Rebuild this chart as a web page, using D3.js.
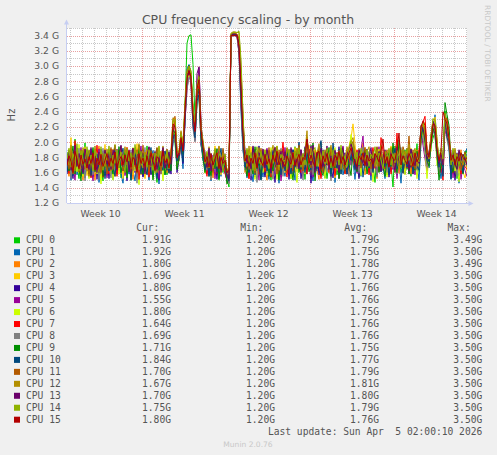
<!DOCTYPE html>
<html>
<head>
<meta charset="utf-8">
<script src="https://cdn.jsdelivr.net/npm/d3@7"></script>
<style>
  body { margin: 0; background: #f0f0f0; }
  text { font-family: "DejaVu Sans", sans-serif; }
  .mono { font-family: "DejaVu Sans Mono", monospace; white-space: pre; }
</style>
</head>
<body>
<script>
// CPU frequency, one value per 4h step, in units of 10 MHz (172 = 1.72 GHz)
const cpu0 = [176,158,189,163,204,170,152,183,167,199,161,178,154,186,172,160,192,165,149,181,169,187,158,174,196,162,180,153,171,190,164,183,150,177,192,168,156,185,173,160,195,171,158,182,166,147,179,188,162,174,157,186,170,
  212,198,170,185,205,176, 248,330,340,341,302,232,262,280,214, 188,163,179,155,171,158,185,166,150,174,160,182, 152,141, 340,341,341,340, 336,262,196,
  166,184,159,176,191,154,170,182,161,175,157,188,168,150,179,193,164,172,155,186,170,160,183,152,177,194,168,181,162,175,151,187,173,196,158,170,184,160,199,166,176,152,171,189,163,180,157,174,192,168,
  159,183,170,201,176,165,188,154,179,193,162,175,186,158,171,147,190,166,181,169,178,157,188,172,141,195,168,183,160,176,190,164,172,155,183,168,198,161,205,213,218,182,170,195,205,214,196,175,160,182,
  241,225,203,172,158,180,152,176,165,184,178,191]
const cpu1 = [162,181,150,173,190,157,178,164,185,153,176,169,191,155,168,182,147,175,163,188,156,172,184,151,177,165,190,159,146,180,171,158,186,163,149,178,192,166,155,183,168,150,175,189,161,172,145,184,170,157,190,164,176,
  198,215,168,180,196,165, 230,296,302,285,240,205,250,262,198, 176,182,158,173,149,169,187,162,178,155,190,166, 148,156, 339,340,340,339, 318,240,188,
  175,153,186,167,148,179,160,193,171,154,183,166,151,178,188,159,174,146,185,168,155,179,190,163,171,150,186,165,177,158,191,158,175,167,149,182,170,192,161,177,153,184,172,160,189,147,176,168,185,157,
  170,186,162,190,174,151,181,166,155,178,188,164,173,150,186,169,158,180,192,167,152,178,184,161,170,190,157,175,146,183,166,191,158,174,187,160,172,150,198,206,222,188,166,205,212,236,200,171,152,176,
  226,212,190,151,174,160,186,146,178,160,185,192]
const cpu2 = [171,155,184,166,179,192,160,175,150,182,168,186,159,173,150,181,195,162,177,156,183,164,176,189,155,171,167,193,158,180,162,187,174,151,183,169,196,157,178,165,190,158,172,185,163,176,154,188,167,179,160,184,171,
  226,232,175,188,210,178, 236,275,290,282,226,210,262,278,206, 192,170,186,161,177,153,181,168,194,159,175,163, 158,150, 341,342,342,341, 320,268,214,
  160,178,152,189,170,163,185,157,176,190,165,150,181,172,158,193,169,180,154,175,188,162,174,157,183,166,192,171,160,185,172,198,185,157,178,190,164,151,186,170,159,182,174,193,168,155,187,176,162,181,
  169,191,158,196,184,170,163,188,175,199,157,180,171,165,190,176,152,184,169,178,186,162,175,193,168,180,203,159,182,171,164,189,176,158,185,170,190,166,200,218,207,184,174,200,222,216,190,162,183,167,
  230,219,205,170,158,183,167,176,190,162,172,180]
const cpu3 = [185,167,206,158,176,189,163,182,171,194,156,180,167,190,160,176,185,153,170,197,164,182,158,191,170,179,162,188,152,175,193,166,181,157,174,198,163,185,170,152,178,190,165,183,159,176,194,168,181,163,187,160,179,
  218,226,185,180,210,190, 240,281,296,290,240,215,258,270,220, 190,175,164,188,159,172,195,166,183,157,178,169, 162,155, 340,344,344,342, 338,286,226,
  183,159,175,194,166,180,152,188,169,177,190,161,184,170,152,176,195,163,181,158,174,189,156,180,168,193,161,186,172,159,182,170,196,163,177,155,189,174,166,185,171,192,160,178,186,153,175,190,168,181,
  162,179,194,205,224,198,170,185,164,180,193,167,178,159,186,172,190,163,176,184,158,181,170,195,166,179,161,188,174,160,185,169,177,192,164,183,170,176,205,210,226,192,181,208,216,233,205,164,172,184,
  228,210,201,165,177,153,180,159,175,161,153,169]
const cpu4 = [158,184,170,152,189,166,178,155,182,168,190,157,175,164,183,151,179,170,188,159,176,152,181,167,194,158,173,185,162,177,149,183,170,191,160,175,166,187,154,180,168,193,157,176,184,162,150,179,171,188,163,175,158,
  205,212,160,178,200,172, 226,282,292,276,225,202,258,268,196, 182,166,180,157,185,162,176,151,189,168,174,159, 150,160, 340,341,341,340, 330,258,192,
  179,164,188,150,173,184,162,195,158,170,154,182,166,189,171,147,180,162,176,191,165,182,151,176,190,160,178,186,152,171,194,163,181,146,179,166,185,157,174,190,160,177,188,169,153,182,171,194,163,178,
  186,158,172,183,190,165,177,152,181,169,175,191,160,179,166,184,157,172,188,163,170,185,154,178,192,161,174,183,166,189,158,176,190,167,180,171,163,185,212,216,195,170,182,199,219,208,182,163,176,158,
  225,213,196,163,182,150,174,169,184,160,184,180]
const cpu5 = [179,163,191,172,150,184,166,193,158,175,162,185,171,149,180,166,191,158,176,183,153,187,169,178,160,191,164,177,185,156,172,190,161,183,168,154,179,195,166,181,158,174,189,163,185,170,152,178,191,165,180,168,187,
  209,205,176,182,198,190, 228,268,290,278,219,208,270,298,226, 190,188,159,176,167,183,152,178,191,164,172,160, 155,147, 339,340,340,339, 316,250,203,
  170,187,156,181,164,191,172,150,184,163,178,192,160,173,186,158,167,183,149,172,193,170,162,187,158,175,184,166,190,157,191,180,167,195,154,176,162,187,155,181,168,190,173,159,184,171,186,152,179,195,
  163,177,188,170,196,182,159,175,190,208,167,183,172,156,189,165,178,194,161,176,185,158,171,190,164,180,152,177,188,166,174,192,160,183,170,157,186,175,214,196,178,162,188,203,226,221,197,170,160,186,
  215,208,199,188,153,178,168,182,151,170,163,155]
const cpu6 = [168,190,159,177,183,161,197,170,155,186,174,152,183,168,189,158,171,145,180,167,186,160,178,150,173,185,158,191,166,179,154,182,170,193,162,176,144,181,167,188,159,175,186,152,170,183,164,177,149,185,172,160,181,
  220,208,168,178,198,185, 234,279,288,282,227,212,252,260,202, 185,159,174,183,152,176,168,190,157,172,181,163, 160,151, 340,342,342,341, 334,280,218,
  164,176,190,158,182,151,176,166,189,160,172,157,180,193,164,176,151,187,170,182,160,178,169,152,185,171,147,183,176,164,158,179,164,186,170,155,182,168,190,175,152,184,171,160,177,193,163,186,158,172,
  180,166,188,210,179,164,175,190,156,183,171,159,185,177,148,182,168,191,163,176,187,154,178,166,183,160,175,194,168,180,157,183,170,189,164,178,152,176,206,221,190,152,183,188,224,218,169,180,165,176,
  234,208,196,175,190,162,170,148,176,165,184,180]
const cpu7 = [174,159,186,165,202,170,181,156,172,190,165,179,153,188,170,196,162,177,154,184,170,158,191,166,178,155,185,169,180,161,193,172,157,184,168,190,151,176,186,163,179,154,188,171,162,183,175,158,192,167,177,160,185,
  212,228,181,176,202,187, 236,285,296,279,236,210,264,274,210, 195,171,155,182,164,174,190,159,177,168,185,160, 149,157, 340,341,341,340, 322,262,199,
  185,166,152,178,190,169,181,158,173,187,161,175,189,154,181,167,193,158,176,200,168,154,181,174,162,188,170,195,160,183,172,158,191,166,179,163,187,175,152,184,169,192,160,177,185,156,174,189,166,180,
  158,183,171,196,178,165,190,162,175,184,170,186,157,180,193,166,176,161,206,188,165,179,190,158,183,172,212,168,186,160,178,166,193,175,158,184,171,190,215,226,234,190,176,201,214,220,182,160,176,150,
  220,232,214,170,160,179,185,174,158,172,168,164]
const cpu8 = [166,178,152,187,163,175,192,160,181,149,177,163,188,157,174,186,151,168,192,161,180,167,153,182,165,176,189,158,172,184,155,171,190,163,178,146,184,169,175,193,162,180,170,154,187,166,179,158,183,171,165,189,174,
  202,206,170,176,195,182, 228,270,286,284,218,200,250,258,204, 180,175,163,186,150,181,168,192,159,174,163,185, 153,145, 339,340,340,339, 318,248,190,
  163,180,169,155,186,173,147,179,164,190,175,159,187,166,151,182,169,178,192,155,180,166,191,159,173,182,165,188,173,150,181,192,166,174,157,185,162,180,200,170,188,161,173,149,176,190,165,182,158,171,
  184,168,155,190,182,170,186,159,177,194,166,179,188,160,172,185,154,178,169,183,176,160,189,171,166,184,158,175,193,162,180,168,176,191,160,182,170,165,212,205,186,168,173,196,221,207,180,160,178,166,
  227,203,190,178,166,190,155,177,163,182,171,169]
const cpu9 = [187,162,175,195,158,180,168,149,189,171,183,158,172,193,161,179,167,186,155,174,162,190,171,158,182,168,194,160,176,185,153,180,167,189,174,160,196,171,158,183,176,165,188,150,179,192,163,174,186,157,170,184,162,
  216,212,164,180,207,184, 242,290,301,292,241,218,266,270,210, 178,160,184,170,156,178,165,191,152,180,168,174, 145,154, 340,342,342,341, 330,272,207,
  172,155,183,170,158,194,165,177,151,186,168,183,155,177,162,190,172,150,183,166,178,192,164,171,150,180,187,160,175,168,192,178,161,170,199,149,177,188,163,156,181,170,193,158,175,166,185,152,179,190,
  163,184,172,156,188,175,161,182,169,178,190,158,176,184,165,172,193,160,180,171,155,179,186,168,199,174,160,203,182,166,175,190,158,181,170,163,188,176,203,220,200,176,168,196,218,211,184,150,172,168,
  252,236,222,172,160,178,165,184,170,158,188,171]
const cpu10 = [160,182,171,156,180,192,164,175,158,183,170,189,156,177,165,184,160,191,173,152,175,162,187,170,155,183,166,179,192,161,184,171,150,177,189,163,175,158,186,169,157,180,193,166,174,152,185,170,163,188,176,159,181,
  207,210,175,182,198,174, 232,283,295,286,224,206,254,262,205, 187,164,177,155,180,169,188,160,175,192,163,170, 156,149, 340,341,341,340, 326,256,201,
  167,185,160,174,193,157,182,168,150,176,185,162,174,159,190,171,163,186,157,177,162,185,173,158,190,167,176,200,164,181,160,186,172,163,190,175,165,188,202,160,179,170,184,155,199,174,166,191,158,180,
  171,158,187,176,193,163,180,169,185,154,178,190,166,174,160,183,172,187,161,179,168,184,157,180,176,192,165,171,186,159,182,167,175,190,158,184,170,163,210,219,215,181,174,205,228,216,190,167,183,155,
  231,206,198,152,186,172,181,169,176,160,181,184]
const cpu11 = [180,165,193,158,175,186,161,190,170,164,187,155,180,172,191,166,183,160,178,189,158,176,193,164,186,170,177,195,162,181,173,188,165,192,176,159,184,171,196,167,182,160,189,174,166,193,178,162,185,170,191,168,180,
  230,234,189,184,213,196, 244,292,298,288,244,220,272,284,216, 199,178,166,190,171,160,187,174,183,165,192,172, 161,158, 342,343,343,342, 336,290,230,
  176,190,164,183,171,159,188,176,192,168,182,170,193,163,179,186,158,190,174,165,185,171,160,191,175,184,168,196,177,162,180,207,176,166,190,182,169,194,172,160,187,174,165,192,180,168,185,176,190,171,
  163,188,178,195,201,184,172,189,166,182,193,170,181,165,188,177,194,168,185,173,179,190,168,184,172,163,191,180,175,194,184,176,208,169,190,165,178,183,218,224,210,186,178,210,225,217,194,176,181,170,
  233,216,204,176,187,181,170,188,164,176,187,170]
const cpu12 = [183,170,196,176,162,191,178,165,193,180,162,190,178,167,195,172,160,188,183,168,191,172,162,184,197,175,169,186,178,194,170,185,176,163,190,181,198,172,166,187,179,193,168,185,174,160,189,177,195,171,184,166,190,
  232,226,186,185,215,194, 250,294,300,294,246,222,276,288,220, 202,183,170,194,176,166,189,180,195,172,186,178, 163,165, 343,345,345,344, 344,300,236,
  181,168,195,174,187,162,179,193,170,184,171,188,166,183,196,174,180,163,190,178,170,193,181,166,187,176,192,172,185,168,188,215,171,192,178,166,185,198,170,184,190,172,183,196,168,181,175,189,164,186,
  177,194,182,200,206,188,173,192,179,185,170,187,194,176,183,168,190,178,196,174,185,172,181,193,169,186,177,164,190,181,188,175,197,170,184,192,168,181,220,226,214,190,183,209,230,230,202,174,186,172,
  238,220,208,184,174,192,168,184,175,170,178,167]
const cpu13 = [172,189,163,181,196,168,185,170,160,191,176,164,193,170,182,160,187,175,165,190,171,185,164,190,175,163,182,196,168,179,187,161,178,192,170,184,166,189,175,158,183,194,169,177,188,164,180,172,193,166,178,187,171,
  219,222,183,182,204,190, 236,287,296,285,238,216,290,299,222, 196,181,167,192,162,178,188,171,184,160,176,182, 158,152, 341,342,342,341, 328,278,221,
  190,172,181,165,195,178,168,186,174,191,166,190,177,160,185,193,170,176,188,167,187,174,158,193,178,170,184,165,190,176,184,203,187,170,196,160,186,179,192,168,178,195,164,182,171,189,176,160,185,193,
  170,183,191,198,188,175,164,190,180,172,186,168,179,193,165,184,172,188,162,179,190,176,168,185,181,160,194,176,170,188,173,186,162,191,178,169,185,172,222,218,205,178,186,203,227,222,195,172,186,170,
  229,214,200,179,188,171,164,190,176,184,178,170]
const cpu14 = [178,192,167,185,174,198,162,189,176,168,194,171,183,162,189,178,170,194,163,185,176,195,168,183,172,190,166,187,179,160,192,175,186,169,197,180,164,188,172,184,167,190,178,163,186,174,195,170,182,176,189,165,184,
  228,230,190,186,211,200, 252,290,298,290,242,226,276,286,220, 200,172,188,166,183,175,192,168,185,179,162,184, 162,168, 343,344,344,344, 346,308,238,
  174,192,170,186,163,181,194,172,188,169,190,176,165,187,172,181,195,168,184,175,176,164,190,182,170,189,178,193,167,185,170,200,183,175,188,193,168,185,176,189,171,192,180,166,190,178,185,170,196,174,
  182,168,193,202,196,178,187,170,192,181,175,190,168,184,179,194,170,186,177,165,188,179,192,170,185,173,189,181,166,190,171,192,176,185,168,190,180,174,221,225,212,185,178,206,231,228,200,180,192,178,
  236,218,205,170,192,178,184,168,186,178,184,175]
const cpu15 = [169,182,175,160,188,177,165,183,171,178,166,181,172,186,163,179,170,184,168,176,185,168,179,172,187,165,176,181,170,183,174,189,167,180,176,161,185,172,179,168,182,170,186,175,164,181,177,169,188,173,178,166,183,
  224,220,180,186,206,188, 244,284,294,286,236,214,270,282,216, 194,174,181,167,185,170,178,186,165,180,172,176, 160,164, 340,340,340,340, 326,270,212,
  175,183,168,179,172,186,166,180,175,169,184,171,178,166,183,174,188,170,179,173,168,182,175,171,186,169,177,184,170,180,177,204,172,183,174,168,186,188,165,182,174,185,170,179,168,183,176,188,172,181,
  170,178,186,192,180,174,168,182,177,186,169,183,175,178,171,185,180,174,189,204,172,181,167,184,178,176,190,212,170,182,176,171,185,179,168,186,174,180,220,228,222,186,180,200,224,222,190,176,188,240,
  230,224,205,176,183,170,181,175,186,180,176,180]

const series = [cpu0,cpu1,cpu2,cpu3,cpu4,cpu5,cpu6,cpu7,cpu8,cpu9,cpu10,cpu11,cpu12,cpu13,cpu14,cpu15]
const cpuNames = ["CPU 0","CPU 1","CPU 2","CPU 3","CPU 4","CPU 5","CPU 6","CPU 7","CPU 8","CPU 9","CPU 10","CPU 11","CPU 12","CPU 13","CPU 14","CPU 15"]
const cpuColors = ["#00cc00","#0066b3","#ff8000","#ffcc00","#330099","#990099","#ccff00","#ff0000","#808080","#008f00","#00487d","#b35a00","#b38f00","#6b006b","#8fb300","#b30000"]

// legend statistics, GHz
const curVals = [1.91,1.92,1.80,1.69,1.80,1.55,1.80,1.64,1.69,1.71,1.84,1.70,1.67,1.70,1.75,1.80]
const minVals = [1.20,1.20,1.20,1.20,1.20,1.20,1.20,1.20,1.20,1.20,1.20,1.20,1.20,1.20,1.20,1.20]
const avgVals = [1.79,1.75,1.78,1.77,1.76,1.76,1.75,1.76,1.76,1.75,1.77,1.79,1.81,1.80,1.79,1.76]
const maxVals = [3.49,3.50,3.49,3.50,3.50,3.50,3.50,3.50,3.50,3.50,3.50,3.50,3.50,3.50,3.50,3.50]

const yTicks = [1.2,1.4,1.6,1.8,2.0,2.2,2.4,2.6,2.8,3.0,3.2,3.4]
const weekLabels = ["Week 10","Week 11","Week 12","Week 13","Week 14"]

const W = 497, H = 455
const plot = {left: 67, right: 467, top: 28, bottom: 203}

const svg = d3.select('body').append('svg')
  .attr('width', W)
  .attr('height', H)

svg.append('rect').attr('width', W).attr('height', H).attr('fill', '#f0f0f0')

const tStart = new Date(Date.UTC(2026, 2, 2, 18, 0))
const tEnd = new Date(Date.UTC(2026, 3, 5, 2, 0))

const x = d3.scaleUtc().domain([tStart, tEnd]).range([plot.left, plot.right])
const y = d3.scaleLinear().domain([1.2, 3.5]).range([plot.bottom, plot.top])

const step = (tEnd - tStart) / (cpu0.length - 1)
const times = cpu0.map((d, i) => new Date(+tStart + i * step))

// canvas
svg.append('rect')
  .attr('x', plot.left).attr('y', plot.top)
  .attr('width', plot.right - plot.left).attr('height', plot.bottom - plot.top)
  .attr('fill', '#ffffff')

// grid
const grid = svg.append('g').attr('shape-rendering', 'crispEdges').attr('stroke-width', 1).attr('stroke-dasharray', '1,1')
const minorY = d3.range(12, 36).map(d => d / 10).filter(d => !yTicks.some(t => Math.abs(t - d) < 1e-6))
grid.selectAll('.hmin').data(minorY).enter().append('line')
  .attr('x1', plot.left).attr('x2', plot.right)
  .attr('y1', d => Math.round(y(d)) + 0.5).attr('y2', d => Math.round(y(d)) + 0.5)
  .attr('stroke', '#c8c8c8')
const days = d3.utcDay.range(tStart, tEnd)
grid.selectAll('.vmin').data(days).enter().append('line')
  .attr('y1', plot.top).attr('y2', plot.bottom)
  .attr('x1', d => Math.round(x(d)) + 0.5).attr('x2', d => Math.round(x(d)) + 0.5)
  .attr('stroke', '#c8c8c8')
grid.selectAll('.hmaj').data(yTicks.slice(1)).enter().append('line')
  .attr('x1', plot.left).attr('x2', plot.right)
  .attr('y1', d => Math.round(y(d)) + 0.5).attr('y2', d => Math.round(y(d)) + 0.5)
  .attr('stroke', '#e8a0a0')
const mondays = d3.utcMonday.range(tStart, tEnd)
grid.selectAll('.vmaj').data(mondays).enter().append('line')
  .attr('y1', plot.top).attr('y2', plot.bottom)
  .attr('x1', d => Math.round(x(d)) + 0.5).attr('x2', d => Math.round(x(d)) + 0.5)
  .attr('stroke', '#e8a0a0')

// data lines, CPU 0 first so CPU 15 ends on top
const line = d3.line()
  .x((d, i) => x(times[i]))
  .y(d => y(d / 100))
svg.append('clipPath').attr('id', 'clip').append('rect')
  .attr('x', plot.left).attr('y', plot.top)
  .attr('width', plot.right - plot.left).attr('height', plot.bottom - plot.top)
svg.append('g').attr('clip-path', 'url(#clip)')
  .selectAll('path').data(series).enter().append('path')
  .attr('d', line)
  .attr('fill', 'none')
  .attr('stroke', (d, i) => cpuColors[i])
  .attr('stroke-width', 1)

// axes
const axisColor = '#c6cef2'
svg.append('line').attr('x1', plot.left - 0.5).attr('x2', plot.left - 0.5).attr('y1', plot.bottom).attr('y2', 23)
  .attr('stroke', axisColor)
svg.append('path').attr('d', `M${plot.left - 3},24.5L${plot.left + 2},24.5L${plot.left - 0.5},19.5Z`).attr('fill', axisColor)
svg.append('line').attr('x1', plot.left).attr('x2', 470).attr('y1', plot.bottom + 0.5).attr('y2', plot.bottom + 0.5)
  .attr('stroke', axisColor)
svg.append('path').attr('d', `M468.5,${plot.bottom - 2}L468.5,${plot.bottom + 3}L473.5,${plot.bottom + 0.5}Z`).attr('fill', axisColor)

const yAxis = d3.axisLeft(y).tickValues(yTicks).tickFormat(d => d.toFixed(1) + ' G').tickSize(0).tickPadding(8)
const gy = svg.append('g').attr('transform', `translate(${plot.left},0)`).call(yAxis)
gy.select('.domain').remove()
gy.selectAll('text').attr('fill', '#555').attr('font-size', '9.2px').attr('font-family', '"DejaVu Sans"')

const weekCenters = mondays.map(d => d3.utcHour.offset(d, -84))
weekCenters.push(d3.utcHour.offset(mondays[mondays.length - 1], 84))
const xAxis = d3.axisBottom(x).tickValues(weekCenters).tickFormat((d, i) => weekLabels[i]).tickSize(0).tickPadding(7)
const gx = svg.append('g').attr('transform', `translate(0,${plot.bottom})`).call(xAxis)
gx.select('.domain').remove()
gx.selectAll('text').attr('fill', '#555').attr('font-size', '9.3px').attr('font-family', '"DejaVu Sans"')

// titles
svg.append('text').attr('x', 248).attr('y', 23.5).attr('text-anchor', 'middle')
  .attr('font-size', '12.5px').attr('fill', '#555').text('CPU frequency scaling - by month')
svg.append('text').attr('transform', 'translate(15,115) rotate(-90)').attr('text-anchor', 'middle')
  .attr('font-size', '10px').attr('fill', '#555').text('Hz')
svg.append('text').attr('transform', 'translate(485,5) rotate(90)')
  .attr('font-size', '7.5px').attr('fill', '#c8c8c8').text('RRDTOOL / TOBI OETIKER')

// legend
const legend = svg.append('g').attr('class', 'mono').attr('font-size', '9.63px').attr('fill', '#555')
const cols = [
  {head: 'Cur:', vals: curVals, x: 171},
  {head: 'Min:', vals: minVals, x: 275},
  {head: 'Avg:', vals: avgVals, x: 379},
  {head: 'Max:', vals: maxVals, x: 482.3}
]
cols.forEach(c => {
  legend.append('text').attr('class', 'mono').attr('x', c.x - 11.6).attr('y', 230.8)
    .attr('text-anchor', 'end').text(c.head)
})
const rowY = i => 243.3 + i * 11.96
const rows = legend.selectAll('.row').data(cpuNames).enter().append('g')
rows.append('rect')
  .attr('x', 14).attr('y', (d, i) => rowY(i) - 6).attr('width', 6).attr('height', 6)
  .attr('fill', (d, i) => cpuColors[i])
rows.append('text').attr('class', 'mono').attr('x', 26).attr('y', (d, i) => rowY(i)).text(d => d)
cols.forEach(c => {
  rows.append('text').attr('class', 'mono').attr('x', c.x).attr('y', (d, i) => rowY(i))
    .attr('text-anchor', 'end').text((d, i) => c.vals[i].toFixed(2) + 'G')
})
legend.append('text').attr('class', 'mono').attr('x', 482.3).attr('y', 434.5)
  .attr('text-anchor', 'end').text('Last update: Sun Apr  5 02:00:10 2026')

svg.append('text').attr('x', 248).attr('y', 447.3).attr('text-anchor', 'middle')
  .attr('font-size', '7.55px').attr('fill', '#c8c8c8').text('Munin 2.0.76')
</script>
</body>
</html>
